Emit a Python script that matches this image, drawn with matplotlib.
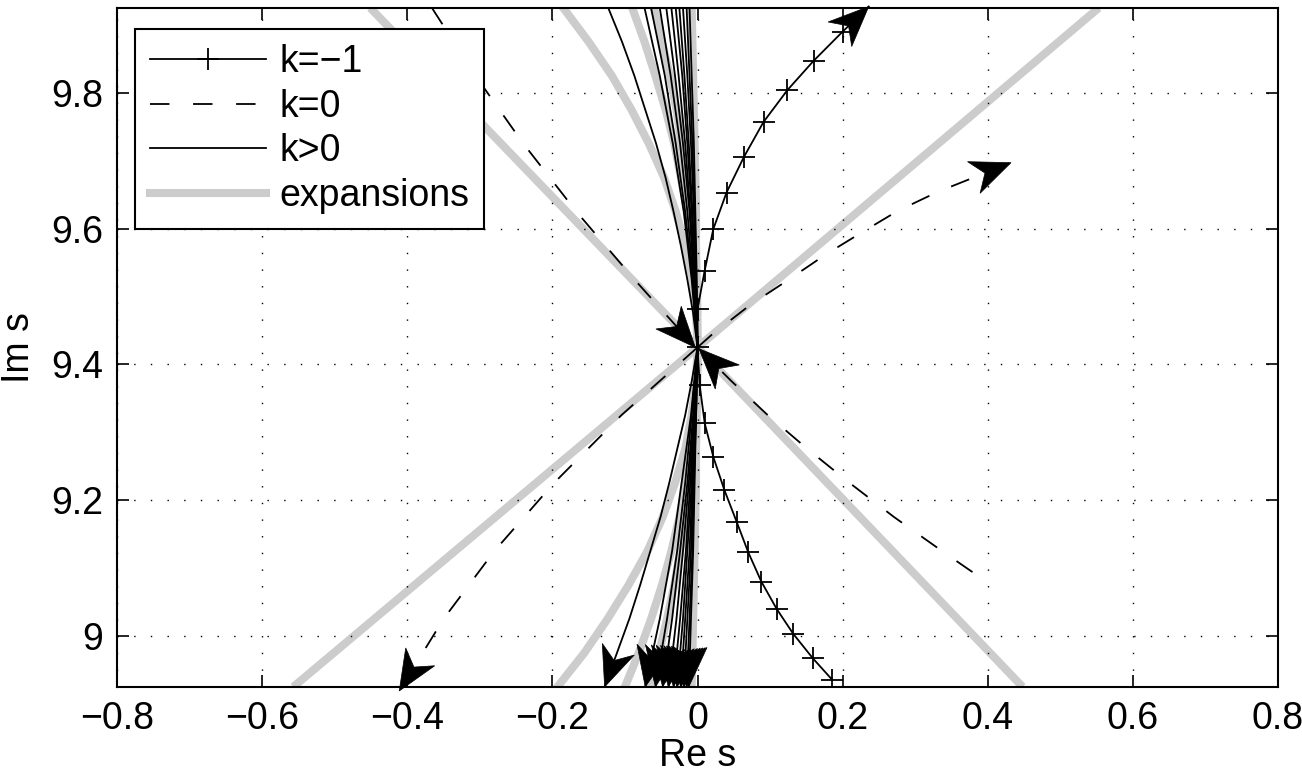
import numpy as np
import matplotlib
matplotlib.use("Agg")
import matplotlib.pyplot as plt
from matplotlib.patches import Polygon

plt.rcParams['font.family'] = ['Liberation Sans', 'DejaVu Sans']
plt.rcParams['lines.scale_dashes'] = False

# common Im s levels (3*pi +/- 0.5 in steps of 0.1)
y_levels = [9.925, 9.825, 9.725, 9.625, 9.525, 9.425, 9.325, 9.225, 9.125, 9.025, 8.925]
# finer levels (steps of 0.05) for the more curved branches
y_fine = [9.925, 9.875, 9.825, 9.775, 9.725, 9.675, 9.625, 9.575, 9.525, 9.475, 9.425,
          9.375, 9.325, 9.275, 9.225, 9.175, 9.125, 9.075, 9.025, 8.975, 8.925]

# outer k>0 branch on y_fine
kpos_outer_x = [-0.123, -0.104, -0.087, -0.072, -0.057, -0.044, -0.033, -0.023, -0.014, -0.006, 0.0,
                -0.008, -0.017, -0.028, -0.039, -0.051, -0.065, -0.079, -0.094, -0.111, -0.128]

# remaining k>0 branches, Re s at each y level (top -> centre -> bottom)
kpos_x = [
    [-0.073, -0.052, -0.034, -0.019, -0.008, 0.0, -0.009, -0.022, -0.035, -0.052, -0.072],
    [-0.064, -0.045, -0.030, -0.017, -0.007, 0.0, -0.008, -0.017, -0.028, -0.042, -0.058],
    [-0.052, -0.037, -0.024, -0.014, -0.006, 0.0, -0.006, -0.014, -0.024, -0.035, -0.048],
    [-0.043, -0.031, -0.020, -0.011, -0.005, 0.0, -0.005, -0.012, -0.020, -0.029, -0.040],
    [-0.036, -0.026, -0.017, -0.010, -0.004, 0.0, -0.004, -0.010, -0.016, -0.024, -0.033],
    [-0.030, -0.021, -0.014, -0.008, -0.003, 0.0, -0.004, -0.008, -0.014, -0.020, -0.028],
    [-0.025, -0.018, -0.012, -0.007, -0.003, 0.0, -0.003, -0.007, -0.011, -0.017, -0.023],
    [-0.020, -0.014, -0.009, -0.005, -0.002, 0.0, -0.002, -0.006, -0.009, -0.014, -0.019],
    [-0.015, -0.011, -0.007, -0.004, -0.002, 0.0, -0.002, -0.005, -0.007, -0.011, -0.015],
    [-0.011, -0.008, -0.005, -0.003, -0.001, 0.0, -0.002, -0.004, -0.006, -0.009, -0.012],
]

# expansions (grey): curved ones on y_fine
exp_curve_x = [
    [-0.185, -0.150, -0.118, -0.091, -0.067, -0.046, -0.030, -0.017, -0.007, -0.002, 0.0,
     -0.002, -0.008, -0.017, -0.031, -0.048, -0.069, -0.095, -0.124, -0.156, -0.193],
    [-0.090, -0.073, -0.058, -0.044, -0.032, -0.023, -0.014, -0.008, -0.004, -0.001, 0.0,
     -0.001, -0.004, -0.009, -0.016, -0.025, -0.036, -0.049, -0.064, -0.081, -0.100],
    [-0.060, -0.049, -0.038, -0.029, -0.022, -0.015, -0.010, -0.005, -0.002, -0.001, 0.0,
     -0.001, -0.003, -0.006, -0.011, -0.017, -0.024, -0.032, -0.042, -0.053, -0.066],
    [-0.008, -0.007, -0.006, -0.005, -0.004, -0.003, -0.002, -0.002, -0.001, 0.0, 0.0,
     0.0, -0.001, -0.002, -0.002, -0.003, -0.004, -0.005, -0.006, -0.007, -0.008],
]
exp_line1_x = [-0.557, 0.0, 0.553]
exp_line1_y = [8.925, 9.425, 9.925]
exp_line2_x = [-0.451, 0.0, 0.448]
exp_line2_y = [9.925, 9.425, 8.925]

# k=-1 branch (points are the + markers), bottom -> top
km1_x = [0.186, 0.159, 0.132, 0.109, 0.088, 0.070, 0.054, 0.037, 0.022, 0.010, 0.003, 0.0,
         0.0, 0.0097, 0.0217, 0.040, 0.064, 0.091, 0.124, 0.160, 0.200]
km1_y = [8.935, 8.967, 9.003, 9.040, 9.080, 9.123, 9.168, 9.215, 9.263, 9.313, 9.369, 9.425,
         9.481, 9.537, 9.599, 9.653, 9.7055, 9.757, 9.804, 9.847, 9.890]
km1_tip = (0.236, 9.927)

# k=0 branches
k0a_x = [-0.366, -0.306, -0.240, -0.167, -0.087, -0.003]
k0a_y = [9.925, 9.825, 9.725, 9.625, 9.525, 9.425]
k0b_x = [0.0, 0.019, 0.072, 0.126, 0.177, 0.229, 0.276, 0.331, 0.432]
k0b_y = [9.425, 9.443, 9.487, 9.525, 9.562, 9.596, 9.626, 9.654, 9.697]
k0c_x = [0.379, 0.337, 0.271, 0.210, 0.152, 0.097, 0.047, 0.002]
k0c_y = [9.094, 9.125, 9.175, 9.225, 9.275, 9.325, 9.375, 9.423]
k0d_x = [0.0, -0.105, -0.198, -0.280, -0.350, -0.411]
k0d_y = [9.425, 9.325, 9.225, 9.125, 9.025, 8.919]

xticks = [-0.8, -0.6, -0.4, -0.2, 0.0, 0.2, 0.4, 0.6, 0.8]
xticklabels = ['\u22120.8', '\u22120.6', '\u22120.4', '\u22120.2', '0', '0.2', '0.4', '0.6', '0.8']
yticks = [9.0, 9.2, 9.4, 9.6, 9.8]
yticklabels = ['9', '9.2', '9.4', '9.6', '9.8']

FS = 27
GREY = '#cccccc'
LW = 1.3
GLW = 5.8
DASH = (14, 17)


def arrowhead(ax, xs, ys, length=40, half=17, notch=0.7):
    # filled notched arrow head in pixel units, tip at the last point
    tip = ax.transData.transform((xs[-1], ys[-1]))
    prev = ax.transData.transform((xs[-2], ys[-2]))
    d = tip - prev
    d = d / np.hypot(d[0], d[1])
    n = np.array([-d[1], d[0]])
    base = tip - length * d
    pts = np.array([tip, base + half * n, tip - notch * length * d, base - half * n])
    pts = ax.transData.inverted().transform(pts)
    ax.add_patch(Polygon(pts, closed=True, facecolor='k', edgecolor='k', lw=0.5,
                         clip_on=False, zorder=6))


fig = plt.figure(figsize=(13.02, 7.78), dpi=100)
ax = fig.add_axes([117 / 1302, 91 / 778, 1161 / 1302, 679 / 778])
ax.set_xlim(-0.8, 0.8)
ax.set_ylim(8.9248, 9.9248)

# expansions
ax.plot(exp_line1_x, exp_line1_y, color=GREY, lw=GLW, zorder=1, solid_capstyle='butt')
ax.plot(exp_line2_x, exp_line2_y, color=GREY, lw=GLW, zorder=1, solid_capstyle='butt')
for xs in exp_curve_x:
    ax.plot(xs, y_fine, color=GREY, lw=GLW, zorder=1)

# k>0
ax.plot(kpos_outer_x, y_fine, color='k', lw=LW, zorder=3)
arrowhead(ax, kpos_outer_x, y_fine)
for xs in kpos_x:
    ax.plot(xs, y_levels, color='k', lw=LW, zorder=3)
    arrowhead(ax, xs, y_levels)

# k=0
for xs, ys in [(k0a_x, k0a_y), (k0b_x, k0b_y), (k0c_x, k0c_y), (k0d_x, k0d_y)]:
    ax.plot(xs, ys, color='k', lw=LW, dashes=DASH, zorder=3)
    arrowhead(ax, xs, ys)

# k=-1
ax.plot(km1_x, km1_y, color='k', lw=LW, marker='+', ms=16, mew=LW, zorder=4)
ax.plot([km1_x[-1], km1_tip[0]], [km1_y[-1], km1_tip[1]], color='k', lw=LW, zorder=4, clip_on=False)
arrowhead(ax, [km1_x[-1], km1_tip[0]], [km1_y[-1], km1_tip[1]])

ax.set_xticks(xticks)
ax.set_xticklabels(xticklabels, fontsize=FS)
ax.set_yticks(yticks)
ax.set_yticklabels(yticklabels, fontsize=FS)
ax.tick_params(direction='in', length=8.5, width=1.2, top=True, right=True, pad=10)
ax.grid(True, color='k', lw=1.0, dashes=(1, 11))
for s in ax.spines.values():
    s.set_linewidth(1.5)
    s.set_zorder(7)
ax.set_xlabel('Re s', fontsize=FS, labelpad=1)
ax.set_ylabel('Im s', fontsize=FS, labelpad=10)

# legend
h1, = ax.plot([], [], color='k', lw=LW, marker='+', ms=16, mew=LW, markevery=[1])
h2, = ax.plot([], [], color='k', lw=LW, dashes=DASH)
h3, = ax.plot([], [], color='k', lw=LW)
h4, = ax.plot([], [], color=GREY, lw=GLW)
leg = ax.legend([h1, h2, h3, h4], ['k=\u22121', 'k=0', 'k>0', 'expansions'],
                loc='upper left', bbox_to_anchor=(0.0155, 0.969), borderaxespad=0,
                fontsize=FS, handlelength=3.1, handletextpad=0.35, labelspacing=0.23,
                borderpad=0.4, fancybox=False, framealpha=1, edgecolor='k')
leg.get_frame().set_linewidth(1.5)
leg.set_zorder(8)

fig.savefig('out.png', dpi=100)
